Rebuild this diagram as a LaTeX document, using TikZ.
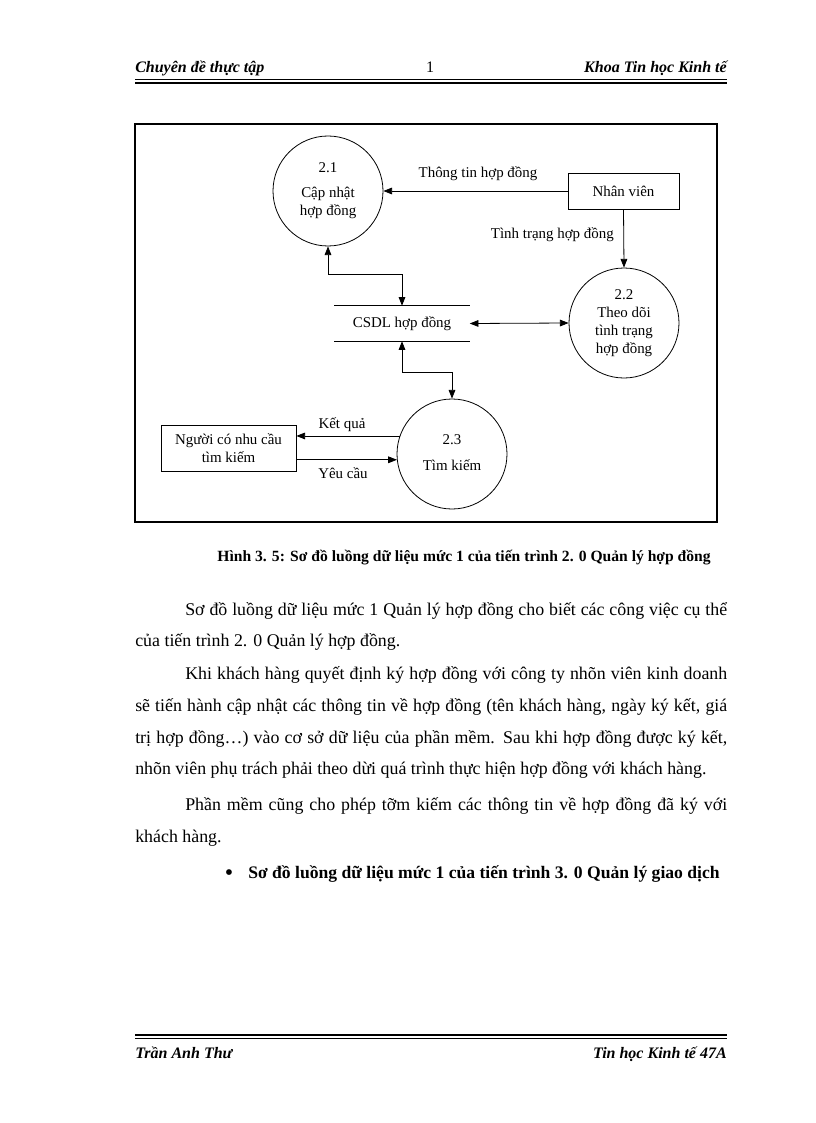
\documentclass[tikz,border=0pt]{standalone}
\usepackage{fontspec}
\setmainfont{Liberation Serif}
\usetikzlibrary{arrows.meta}
\begin{document}
\begin{tikzpicture}[x=0.75pt,y=-0.75pt,
  dfont/.style={font=\fontsize{11.2}{13.5}\selectfont},
  proc/.style={draw,circle,minimum size=82.5pt,inner sep=0pt,align=center,dfont,line width=0.6pt},
  ent/.style={draw,rectangle,inner sep=0pt,align=center,dfont,line width=0.6pt},
  store/.style={rectangle,inner sep=0pt,dfont,minimum width=101.25pt,minimum height=26.25pt},
  lbl/.style={inner sep=0pt,dfont},
  tip/.tip={Triangle[length=6.5pt,width=5pt]},
  flow/.style={line width=0.6pt,-tip},
  bflow/.style={line width=0.6pt,tip-tip},
  hdr/.style={inner sep=0pt,font=\fontsize{12}{14}\selectfont\bfseries\itshape},
  body/.style={anchor=base west,inner sep=0pt,font=\fontsize{13.4}{15}\selectfont},
  bodyb/.style={anchor=base west,inner sep=0pt,font=\fontsize{13.2}{15}\selectfont\bfseries},
]
\useasboundingbox (0,0) rectangle (816,1123);
\fill[white] (0,0) rectangle (816,1123);

% header
\node[hdr,anchor=base west] (h1) at (135,73) {Chuyên đề thực tập};
\node[inner sep=0pt,anchor=base,font=\fontsize{12}{14}\selectfont] (h2) at (430,73) {1};
\node[hdr,anchor=base east] (h3) at (727,73) {Khoa Tin học Kinh tế};
\draw[line width=0.75pt] (135,80) -- (727,80);
\draw[line width=1.3pt] (135,83) -- (727,83);

% footer
\draw[line width=1.3pt] (135,1035) -- (727,1035);
\draw[line width=0.75pt] (135,1038) -- (727,1038);
\node[hdr,anchor=base west] (f1) at (135,1058) {Trần Anh Thư};
\node[hdr,anchor=base east] (f2) at (727,1058) {Tin học Kinh tế 47A};

% frame
\draw[line width=1pt] (135,124) rectangle (717,522);

% diagram
\node[proc] (p1) at (328,191) {2.1\\[5pt]Cập nhật\\hợp đồng};
\node[ent,minimum width=83.25pt,minimum height=27pt] (nv) at (623.5,191) {Nhân viên};
\node[proc] (p2) at (624,323) {2.2\\Theo dõi\\tình trạng\\hợp đồng};
\node[store] (db) at (402,323.5) {CSDL hợp đồng};
\draw[line width=0.6pt] (db.north west) -- (db.north east);
\draw[line width=0.6pt] (db.south west) -- (db.south east);
\node[proc] (p3) at (452,454) {\raisebox{2pt}{2.3}\\[6pt]\raisebox{2pt}{Tìm kiếm}};
\node[ent,minimum width=101.25pt,minimum height=34.5pt] (ng) at (228.5,448) {Người có nhu cầu\\tìm kiếm};

\draw[flow] (nv.west) -- (p1.east);
\node[lbl] (l1) at (478,174) {Thông tin hợp đồng};
\draw[flow] (nv.south) -- (p2.north);
\node[lbl,anchor=east] (l2) at (614,235) {Tình trạng hợp đồng};
\draw[bflow] (p1.south) -- (p1.south |- 0,274) -| (db.north);
\draw[bflow] (db.east) -- (p2.west);
\draw[bflow] (db.south) -- (db.south |- 0,372) -| (p3.north);
\draw[flow] (p3.161) -- (ng.east |- p3.161);
\node[lbl] (l3) at (342,425) {Kết quả};
\draw[flow] (ng.east |- p3.186) -- (p3.186);
\node[lbl] (l4) at (343,473) {Yêu cầu};

% caption
\node[inner sep=0pt,anchor=base,font=\fontsize{11.7}{13}\selectfont\bfseries] (cap) at (464,561) {Hình 3. 5: Sơ đồ luồng dữ liệu mức 1 của tiến trình 2. 0 Quản lý hợp đồng};

% body text
\node[body] (t1) at (185,615) {\makebox[406.5pt][s]{Sơ đồ luồng dữ liệu mức 1 Quản lý hợp đồng cho biết các công việc cụ thể}};
\node[body] (t2) at (135,646) {của tiến trình 2. 0 Quản lý hợp đồng.};
\node[body] (t3) at (185,679) {\makebox[406.5pt][s]{Khi khách hàng quyết định ký hợp đồng với công ty nhõn viên kinh doanh}};
\node[body] (t4) at (135,711) {\makebox[444pt][s]{sẽ tiến hành cập nhật các thông tin về hợp đồng (tên khách hàng, ngày ký kết, giá}};
\node[body] (t5) at (135,743) {\makebox[444pt][s]{trị hợp đồng…) vào cơ sở dữ liệu của phần mềm. Sau khi hợp đồng được ký kết,}};
\node[body] (t6) at (135,774) {nhõn viên phụ trách phải theo dừi quá trình thực hiện hợp đồng với khách hàng.};
\node[body] (t7) at (185,810) {\makebox[406.5pt][s]{Phần mềm cũng cho phép tỡm kiếm các thông tin về hợp đồng đã ký với}};
\node[body] (t8) at (135,842) {khách hàng.};
\node[inner sep=0pt,anchor=base,font=\fontsize{18}{18}\selectfont] (b0) at (229,880) {\textbullet};
\node[bodyb] (b1) at (248,878) {Sơ đồ luồng dữ liệu mức 1 của tiến trình 3. 0 Quản lý giao dịch};
\end{tikzpicture}
\end{document}
